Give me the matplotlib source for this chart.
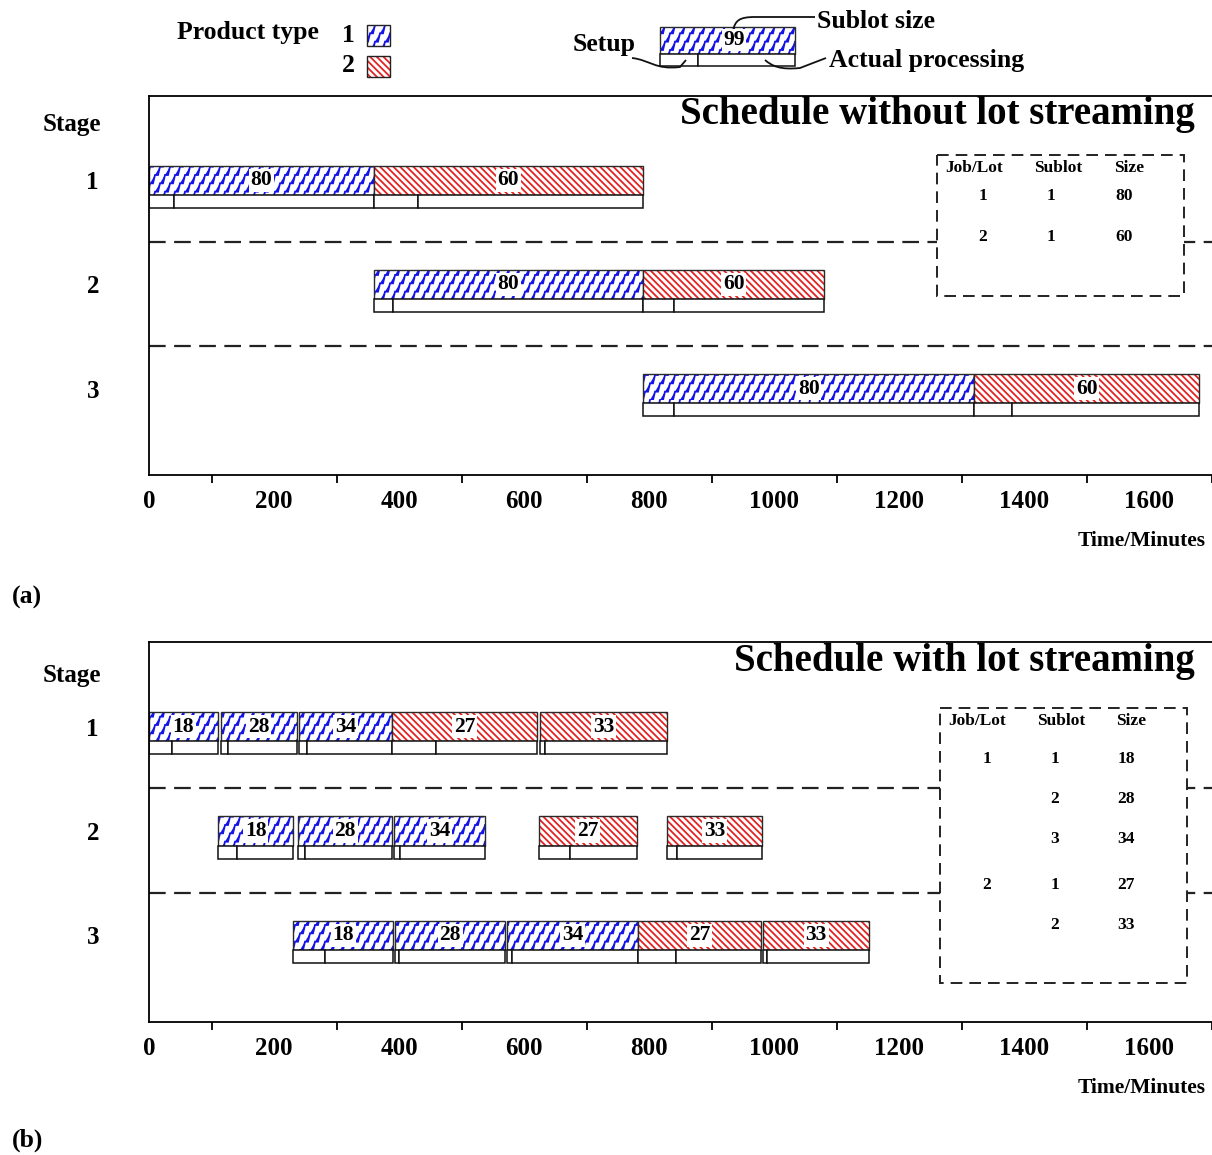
import warnings
import numpy as np
import matplotlib
matplotlib.use("Agg")
import matplotlib.pyplot as plt
import matplotlib.hatch as mhatch
from matplotlib.patches import Rectangle, PathPatch
from matplotlib.path import Path
from matplotlib.ticker import MultipleLocator

warnings.filterwarnings("ignore")

# ---------------- data ----------------
stage_names = ["1", "2", "3"]
time_ticks = [0, 200, 400, 600, 800, 1000, 1200, 1400, 1600]

# (a) schedule without lot streaming (one sublot per job)
a_stage = [1, 1, 2, 2, 3, 3]
a_job = [1, 2, 1, 2, 1, 2]
a_size = [80, 60, 80, 60, 80, 60]
a_start = [0, 360, 360, 790, 790, 1320]
a_setup_end = [40, 430, 390, 840, 840, 1380]
a_end = [360, 790, 790, 1080, 1320, 1680]

# (b) schedule with lot streaming
b_stage = [1, 1, 1, 1, 1, 2, 2, 2, 2, 2, 3, 3, 3, 3, 3]
b_job = [1, 1, 1, 2, 2, 1, 1, 1, 2, 2, 1, 1, 1, 2, 2]
b_size = [18, 28, 34, 27, 33, 18, 28, 34, 27, 33, 18, 28, 34, 27, 33]
b_start = [0, 115, 240, 389, 625, 111, 239, 392, 623, 829, 231, 394, 573, 782, 982]
b_setup_end = [37, 127, 253, 459, 633, 140, 249, 402, 673, 844, 281, 400, 580, 843, 988]
b_end = [110, 236, 389, 621, 829, 231, 389, 538, 780, 980, 390, 569, 782, 979, 1152]

# tables
a_tab_job = ["1", "2"]
a_tab_sublot = ["1", "1"]
a_tab_size = ["80", "60"]
b_tab_job = ["1", "", "", "2", ""]
b_tab_sublot = ["1", "2", "3", "1", "2"]
b_tab_size = ["18", "28", "34", "27", "33"]

job_color = {1: "#1414e6", 2: "#e32222"}
job_hatch = {1: "z", 2: "\\" * 5}


# zigzag hatch for product 1 ('z'): flat bit, then a slanted bit, repeated
class ZigHatch(mhatch.HatchPatternBase):
    def __init__(self, hatch, density):
        self.on = "z" in hatch
        self.n = 10        # lines per tile
        self.m = 12        # steps per tile
        self.flat = 0.03
        self.slant = 0.02
        shift = int(round(self.m * (self.flat + self.slant) * self.n))
        self.offsets = np.arange(-shift - 1, self.n) / self.n
        self.num_vertices = len(self.offsets) * (2 * self.m + 1) if self.on else 0

    def set_vertices_and_codes(self, vertices, codes):
        rise = 1.0 / self.m
        k = 0
        for o in self.offsets:
            x, y = o, 0.0
            vertices[k] = (x, y)
            codes[k] = Path.MOVETO
            k += 1
            for _ in range(self.m):
                x += self.flat
                vertices[k] = (x, y)
                x += self.slant
                y += rise
                vertices[k + 1] = (x, y)
                codes[k] = codes[k + 1] = Path.LINETO
                k += 2


mhatch._hatch_types.append(ZigHatch)

plt.rcParams["font.family"] = ["Liberation Serif", "DejaVu Serif"]
plt.rcParams["font.weight"] = "bold"
plt.rcParams["hatch.linewidth"] = 1.3

W, H = 1212, 1155
fig = plt.figure(figsize=(W / 100, H / 100), dpi=100)


def px_axes(left, top, right, bottom, **kw):
    return fig.add_axes([left / W, 1 - bottom / H, (right - left) / W, (bottom - top) / H], **kw)


ax_a = px_axes(149, 96, 1212, 475)
ax_b = px_axes(149, 642, 1212, 1022)
over = fig.add_axes([0, 0, 1, 1], zorder=10)
over.set_xlim(0, W)
over.set_ylim(H, 0)
over.axis("off")

BAR_H = 0.28
ROW_H = 0.125


def draw_lot(ax, stage, start, setup_end, end, job, size):
    top = stage - BAR_H / 2
    col = job_color[job]
    ax.add_patch(Rectangle((start, top), end - start, BAR_H, facecolor="white",
                           edgecolor=col, hatch=job_hatch[job], lw=0))
    ax.add_patch(Rectangle((start, top), end - start, BAR_H, fill=False,
                           edgecolor="#2a2a2a", lw=1.0))
    ax.add_patch(Rectangle((start, top + BAR_H), setup_end - start, ROW_H,
                           facecolor="white", edgecolor="#111", lw=1.1))
    ax.add_patch(Rectangle((setup_end, top + BAR_H), end - setup_end, ROW_H,
                           facecolor="white", edgecolor="#111", lw=1.1))
    ax.text((start + end) / 2, stage, str(size), ha="center", va="center",
            fontsize=15.5, bbox=dict(facecolor="white", edgecolor="none", pad=1.2))


def setup_panel(ax, title, stage_y):
    ax.set_xlim(0, 1700)
    ax.set_ylim(3.83, 0.19)
    ax.spines["right"].set_visible(False)
    for s in ax.spines.values():
        s.set_linewidth(1.3)
    ax.set_xticks(time_ticks)
    ax.xaxis.set_minor_locator(MultipleLocator(100))
    ax.tick_params(axis="x", which="major", length=0, pad=11, labelsize=18)
    ax.tick_params(axis="x", which="minor", length=6, width=1.3, direction="out")
    ax.set_yticks([1, 2, 3], stage_names)
    ax.tick_params(axis="y", length=0, pad=36, labelsize=18)
    for y in [1.59, 2.59]:
        ax.axhline(y, color="#222", lw=1.6, dashes=(7.5, 3.8), zorder=0.5)
    ax.text(0.984, 0.95, title, transform=ax.transAxes, ha="right", va="center", fontsize=28)
    ax.text(0.9944, -0.174, "Time/Minutes", transform=ax.transAxes, ha="right",
            va="center", fontsize=15.5)
    ax.text(-0.0724, stage_y, "Stage", transform=ax.transAxes, ha="center",
            va="center", fontsize=18)


setup_panel(ax_a, "Schedule without lot streaming", 0.924)
setup_panel(ax_b, "Schedule with lot streaming", 0.913)

for i in range(len(a_stage)):
    draw_lot(ax_a, a_stage[i], a_start[i], a_setup_end[i], a_end[i], a_job[i], a_size[i])
for i in range(len(b_stage)):
    draw_lot(ax_b, b_stage[i], b_start[i], b_setup_end[i], b_end[i], b_job[i], b_size[i])


# tables (figure pixel coords)
def draw_table(box, head_y, head_x, col_x, row_y, jobs, subs, sizes):
    x0, y0, x1, y1 = box
    over.add_patch(Rectangle((x0, y0), x1 - x0, y1 - y0, facecolor="white",
                             edgecolor="#222", lw=1.4, linestyle=(0, (6, 3.6))))
    for x, t in zip(head_x, ["Job/Lot", "Sublot", "Size"]):
        over.text(x, head_y, t, ha="center", va="center", fontsize=12.5)
    for y, j, s, z in zip(row_y, jobs, subs, sizes):
        for x, t in zip(col_x, [j, s, z]):
            over.text(x, y, t, ha="center", va="center", fontsize=12.5)


draw_table((937, 155, 1184, 296), 168, [974, 1058, 1129], [983, 1051, 1124],
           [196, 237], a_tab_job, a_tab_sublot, a_tab_size)
draw_table((940, 708, 1187, 983), 721, [977, 1061, 1131], [987, 1055, 1126],
           [759, 799, 839, 885, 925], b_tab_job, b_tab_sublot, b_tab_size)

# legend: product type swatches
over.text(177, 33, "Product type", ha="left", va="center", fontsize=18.5)
for j, ytop in [(1, 25), (2, 56)]:
    over.text(348, ytop + 10, str(j), ha="center", va="center", fontsize=18.5)
    over.add_patch(Rectangle((367, ytop), 23, 21, facecolor="white",
                             edgecolor=job_color[j], hatch=job_hatch[j], lw=0))
    over.add_patch(Rectangle((367, ytop), 23, 21, fill=False, edgecolor="#222", lw=1.0))

# key: sample sublot
over.add_patch(Rectangle((660, 27), 135, 27, facecolor="white", edgecolor=job_color[1],
                         hatch=job_hatch[1], lw=0))
over.add_patch(Rectangle((660, 27), 135, 27, fill=False, edgecolor="#2a2a2a", lw=1.0))
over.add_patch(Rectangle((660, 54), 38, 12, facecolor="white", edgecolor="#111", lw=1.1))
over.add_patch(Rectangle((698, 54), 97, 12, facecolor="white", edgecolor="#111", lw=1.1))
over.text(734, 40, "99", ha="center", va="center", fontsize=15.5,
          bbox=dict(facecolor="white", edgecolor="none", pad=1.0))
over.text(817, 21, "Sublot size", ha="left", va="center", fontsize=18.5)
over.text(636, 45, "Setup", ha="right", va="center", fontsize=18.5)
over.text(829, 60, "Actual processing", ha="left", va="center", fontsize=18.5)

C = Path.CURVE4
curves = [
    [(733, 31), (735, 20), (740, 17), (755, 17), (815, 17)],
    [(632, 58), (650, 60), (655, 70), (680, 67), (686, 60)],
    [(765, 60), (772, 66), (780, 70), (800, 68), (826, 58)],
]
for pts in curves:
    codes = [Path.MOVETO, C, C, C] + [Path.LINETO] * (len(pts) - 4)
    over.add_patch(PathPatch(Path(pts, codes), fill=False, edgecolor="#111", lw=1.3))

over.text(12, 597, "(a)", ha="left", va="center", fontsize=18.5)
over.text(12, 1140, "(b)", ha="left", va="center", fontsize=18.5)

fig.savefig("out.png", dpi=100)
